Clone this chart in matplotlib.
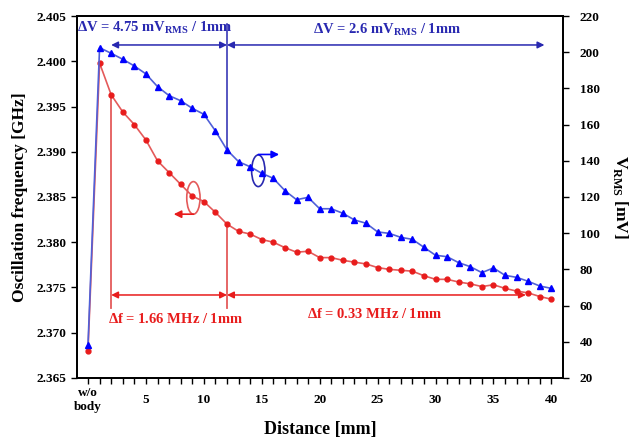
import matplotlib.pyplot as plt
from matplotlib.patches import Ellipse
import numpy as np

plt.rcParams['font.family'] = ['Liberation Serif', 'DejaVu Serif']
plt.rcParams['font.weight'] = 'bold'
plt.rcParams['mathtext.fontset'] = 'custom'
plt.rcParams['mathtext.rm'] = 'Liberation Serif:bold'
plt.rcParams['mathtext.bf'] = 'Liberation Serif:bold'

# distance [mm], 0 = w/o body
distance = np.arange(0, 41)

# oscillation frequency [GHz]
freq = [2.3680, 2.3998, 2.3963, 2.3944, 2.3930, 2.3913, 2.3890, 2.3877, 2.3864,
        2.3851, 2.3845, 2.3833, 2.3820, 2.3812, 2.3809, 2.3803, 2.3800, 2.3794,
        2.3789, 2.3790, 2.3783, 2.3783, 2.3780, 2.3778, 2.3776, 2.3772, 2.3770,
        2.3769, 2.3768, 2.3763, 2.3759, 2.3759, 2.3756, 2.3754, 2.3751, 2.3753,
        2.3749, 2.3746, 2.3744, 2.3740, 2.3737]

# V_RMS [mV]
vrms = [38.2, 202.5, 199.4, 196.1, 192.4, 188.0, 181.0, 176.0, 173.2, 169.0,
        165.7, 156.5, 146.0, 139.5, 136.7, 133.1, 130.3, 123.5, 118.5, 119.8,
        113.5, 113.5, 111.0, 107.3, 105.5, 100.7, 99.9, 97.7, 96.6, 92.2,
        87.8, 87.0, 83.7, 81.5, 78.2, 80.8, 76.7, 75.6, 73.4, 70.8, 69.5]

xtick_pos = [0, 5, 10, 15, 20, 25, 30, 35, 40]
xtick_lab = ['w/o\nbody', '5', '10', '15', '20', '25', '30', '35', '40']

red = '#e81c1c'
red_line = '#e45a5a'
blue = '#0000ff'
blue_line = '#5060d8'
blue_txt = '#2828b0'

fig = plt.figure(figsize=(6.29, 4.40), dpi=100)
ax = fig.add_axes([0.1224, 0.141, 0.7726, 0.8226])
ax2 = ax.twinx()

ax.plot(distance, freq, color=red_line, lw=1.2, marker='o', ms=3.5,
        mfc=red, mec=red, zorder=3)
ax2.plot(distance, vrms, color=blue_line, lw=1.2, marker='^', ms=4.8,
         mfc=blue, mec=blue, zorder=3)

ax.set_xlim(-0.95, 41)
ax.set_ylim(2.365, 2.405)
ax2.set_ylim(20, 220)
ax.set_yticks(np.arange(2.365, 2.4051, 0.005))
ax.set_yticklabels([f'{v:.3f}' for v in np.arange(2.365, 2.4051, 0.005)])
ax2.set_yticks(np.arange(20, 221, 20))
ax.set_xticks(range(0, 41), minor=True)
ax.set_xticks(xtick_pos)
ax.set_xticklabels(xtick_lab)

for a in (ax, ax2):
    a.tick_params(which='both', direction='out', length=4, width=1,
                  labelsize=9.5)
    for s in a.spines.values():
        s.set_linewidth(1.3)
ax.tick_params(axis='x', which='major', pad=12)
ax2.tick_params(axis='y', pad=8)
for lbl in ax.get_xticklabels():
    lbl.set_va('center')

ax.set_ylabel('Oscillation frequency [GHz]', fontsize=12.5, fontweight='bold', labelpad=6)
ax.set_xlabel('Distance [mm]', fontsize=13, fontweight='bold', labelpad=6)
ax2.set_ylabel(r'V$_{\mathrm{RMS}}$ [mV]', fontsize=12.5, fontweight='bold',
               rotation=270, labelpad=22)

# blue annotations (V_RMS axis)
ax2.plot([12, 12], [146.0, 215.5], color=blue_txt, lw=1.1)
arr_b = dict(arrowstyle='<|-|>', color=blue_txt, lw=1.1, mutation_scale=10,
             shrinkA=0, shrinkB=0)
ax2.annotate('', xy=(2, 204), xytext=(12, 204), arrowprops=arr_b)
ax2.annotate('', xy=(12, 204), xytext=(39.4, 204), arrowprops=arr_b)
ax2.text(-0.95, 213.5, r'$\Delta$V = 4.75 mV$_{\mathrm{RMS}}$ / 1mm', color=blue_txt,
         fontsize=10.5, va='center', ha='left')
ax2.text(25.8, 212.5, r'$\Delta$V = 2.6 mV$_{\mathrm{RMS}}$ / 1mm', color=blue_txt,
         fontsize=10.5, va='center', ha='center')

# red annotations (frequency axis)
ax.plot([2, 2], [2.3727, 2.3963], color=red_line, lw=1.3)
ax.plot([12, 12], [2.3727, 2.3820], color=red_line, lw=1.3)
arr_r = dict(arrowstyle='<|-|>', color=red, lw=1.1, mutation_scale=10,
             shrinkA=0, shrinkB=0)
ax.annotate('', xy=(2, 2.37417), xytext=(12, 2.37417), arrowprops=arr_r)
ax.annotate('', xy=(12, 2.37417), xytext=(37.8, 2.37417), arrowprops=arr_r)
ax.text(1.7, 2.3715, r'$\Delta$f = 1.66 MHz / 1mm', color=red, fontsize=10.5,
        va='center', ha='left')
ax.text(18.9, 2.3721, r'$\Delta$f = 0.33 MHz / 1mm', color=red, fontsize=10.5,
        va='center', ha='left')

# axis markers (ellipses with arrows)
ax.add_patch(Ellipse((9.1, 2.3849), 1.15, 0.0036, fill=False, ec=red_line, lw=1.2))
ax.annotate('', xy=(7.4, 2.3831), xytext=(9.1, 2.3831),
            arrowprops=dict(arrowstyle='-|>', color=red, lw=1.2,
                            mutation_scale=11, shrinkA=0, shrinkB=0))
ax2.add_patch(Ellipse((14.7, 134.5), 1.15, 17.5, fill=False, ec=blue_txt, lw=1.2))
ax2.annotate('', xy=(16.5, 143.5), xytext=(14.7, 143.5),
             arrowprops=dict(arrowstyle='-|>', color=blue, lw=1.2,
                             mutation_scale=11, shrinkA=0, shrinkB=0))

fig.savefig('out.png', dpi=100)
